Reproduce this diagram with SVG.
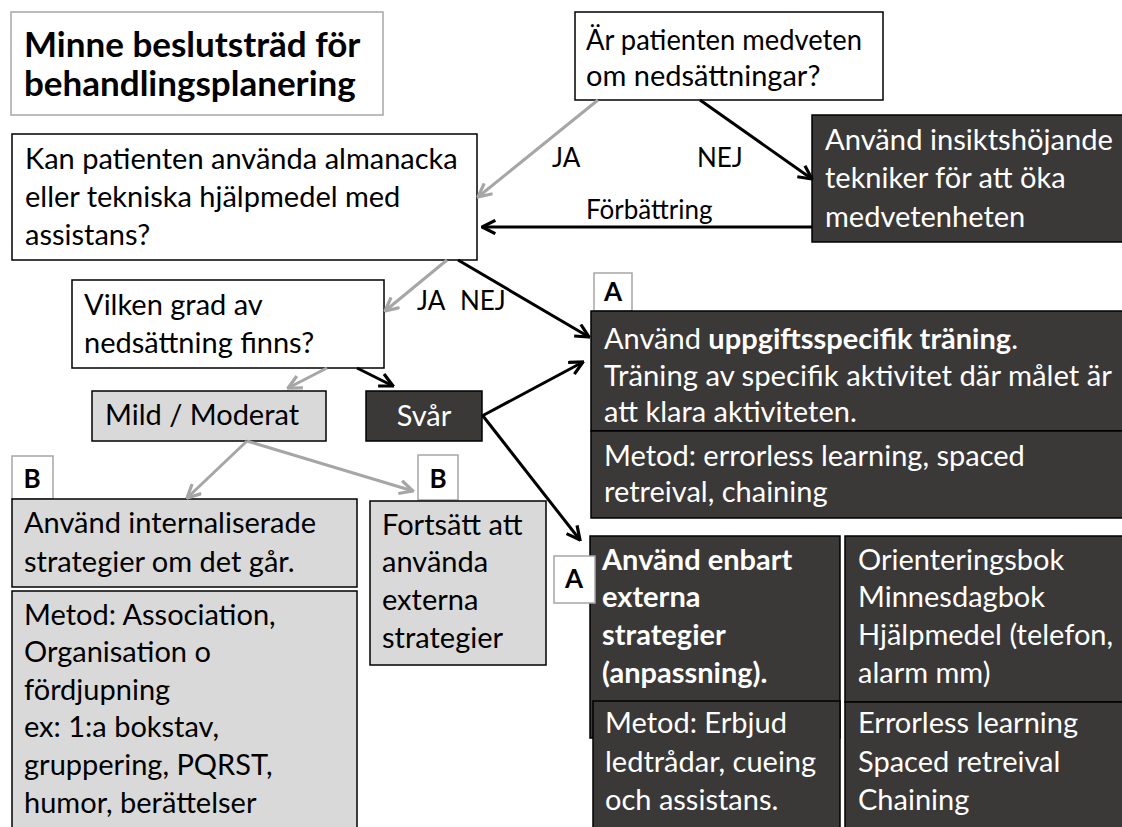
<svg xmlns="http://www.w3.org/2000/svg" width="1122" height="827" viewBox="0 0 1122 827">
  <defs>
    <marker id="ab" viewBox="0 0 12 12" refX="11" refY="6" markerWidth="16" markerHeight="16" markerUnits="userSpaceOnUse" orient="auto">
      <path d="M1,1 L11,6 L1,11" fill="none" stroke="#000" stroke-width="2.4"/>
    </marker>
    <marker id="ag" viewBox="0 0 12 12" refX="11" refY="6" markerWidth="16" markerHeight="16" markerUnits="userSpaceOnUse" orient="auto">
      <path d="M1,1 L11,6 L1,11" fill="none" stroke="#a6a6a6" stroke-width="2.4"/>
    </marker>
    <style>
      .t{font-family:Lato,'Liberation Sans',sans-serif;font-size:29px;fill:#000}
      .s{font-size:26px}
      .w{fill:#fff}
      .b{font-weight:bold}
      .box{fill:#fff;stroke:#000;stroke-width:1.5}
      .dark{fill:#3b3838;stroke:#000;stroke-width:1.5}
      .light{fill:#d9d9d9;stroke:#000;stroke-width:1.5}
      .tag{fill:#fff;stroke:#a6a6a6;stroke-width:1.5}
      .blk{stroke:#000;stroke-width:3;fill:none;marker-end:url(#ab)}
      .gry{stroke:#a6a6a6;stroke-width:3;fill:none;marker-end:url(#ag)}
    </style>
  </defs>
  <rect width="1122" height="827" fill="#fff"/>

  <g id="title">
    <rect x="11" y="12" width="372" height="103" class="tag"/>
    <text class="t b" style="font-size:35px" x="24" y="57">Minne beslutsträd för</text>
    <text class="t b" style="font-size:35px" x="24" y="96">behandlingsplanering</text>
  </g>

  <g id="q-medveten">
    <rect x="575" y="12" width="308" height="88" class="box"/>
    <text class="t" x="586" y="50" textLength="276" lengthAdjust="spacingAndGlyphs">Är patienten medveten</text>
    <text class="t" x="586" y="86">om nedsättningar?</text>
  </g>

  <g id="insikt">
    <rect x="812" y="115" width="312" height="127" class="dark"/>
    <text class="t w" x="825" y="150" textLength="288" lengthAdjust="spacingAndGlyphs">Använd insiktshöjande</text>
    <text class="t w" x="825" y="188">tekniker för att öka</text>
    <text class="t w" x="825" y="227">medvetenheten</text>
  </g>

  <g id="q-almanacka">
    <rect x="12" y="134" width="465" height="126" class="box"/>
    <text class="t" x="25" y="169">Kan patienten använda almanacka</text>
    <text class="t" x="25" y="207">eller tekniska hjälpmedel med</text>
    <text class="t" x="25" y="245">assistans?</text>
  </g>

  <g id="q-grad">
    <rect x="72" y="280" width="312" height="88" class="box"/>
    <text class="t" x="84" y="315">Vilken grad av</text>
    <text class="t" x="84" y="353">nedsättning finns?</text>
  </g>

  <g id="mild">
    <rect x="92" y="391" width="234" height="50" class="light"/>
    <text class="t" x="105" y="425">Mild / Moderat</text>
  </g>

  <g id="svar">
    <rect x="366" y="391" width="116" height="50" class="dark"/>
    <text class="t w" x="424" y="426" text-anchor="middle">Svår</text>
  </g>

  <g id="uppgift">
    <rect x="594" y="273" width="38" height="38" class="tag"/>
    <text class="t b s" x="613" y="301" text-anchor="middle">A</text>
    <rect x="591" y="311" width="533" height="120" class="dark"/>
    <rect x="591" y="431" width="533" height="87" class="dark"/>
    <text class="t w" x="604" y="349">Använd <tspan class="b">uppgiftsspecifik träning</tspan>.</text>
    <text class="t w" x="604" y="386" textLength="508" lengthAdjust="spacingAndGlyphs">Träning av specifik aktivitet där målet är</text>
    <text class="t w" x="604" y="422">att klara aktiviteten.</text>
    <text class="t w" x="604" y="466">Metod: errorless learning, spaced</text>
    <text class="t w" x="604" y="502">retreival, chaining</text>
  </g>

  <g id="internaliserade">
    <rect x="12" y="456" width="41" height="43" class="tag"/>
    <text class="t b s" x="32" y="488" text-anchor="middle">B</text>
    <rect x="12" y="499" width="345" height="88" class="light"/>
    <text class="t" x="24" y="533">Använd internaliserade</text>
    <text class="t" x="24" y="572">strategier om det går.</text>
    <rect x="12" y="591" width="345" height="245" class="light"/>
    <text class="t" x="24" y="625">Metod: Association,</text>
    <text class="t" x="24" y="662">Organisation o</text>
    <text class="t" x="24" y="700">fördjupning</text>
    <text class="t" x="24" y="737">ex: 1:a bokstav,</text>
    <text class="t" x="24" y="775">gruppering, PQRST,</text>
    <text class="t" x="24" y="813">humor, berättelser</text>
  </g>

  <g id="fortsatt">
    <rect x="418" y="455" width="40" height="45" class="tag"/>
    <text class="t b s" x="438" y="488" text-anchor="middle">B</text>
    <rect x="370" y="501" width="176" height="164" class="light"/>
    <text class="t" x="382" y="535">Fortsätt att</text>
    <text class="t" x="382" y="572">använda</text>
    <text class="t" x="382" y="610">externa</text>
    <text class="t" x="382" y="648">strategier</text>
  </g>

  <g id="externa">
    <rect x="590" y="536" width="250" height="202" class="dark"/>
    <rect x="593" y="701" width="247" height="135" class="dark"/>
    <rect x="845" y="536" width="279" height="166" class="dark"/>
    <rect x="845" y="702" width="279" height="134" class="dark"/>
    <rect x="554" y="556" width="41" height="47" class="tag"/>
    <text class="t b s" x="574" y="588" text-anchor="middle">A</text>
    <text class="t w b" x="602" y="570">Använd enbart</text>
    <text class="t w b" x="602" y="607">externa</text>
    <text class="t w b" x="602" y="645">strategier</text>
    <text class="t w b" x="602" y="683">(anpassning).</text>
    <text class="t w" x="605" y="733">Metod: Erbjud</text>
    <text class="t w" x="605" y="772">ledtrådar, cueing</text>
    <text class="t w" x="605" y="810">och assistans.</text>
    <text class="t w" x="858" y="570">Orienteringsbok</text>
    <text class="t w" x="858" y="607">Minnesdagbok</text>
    <text class="t w" x="858" y="645">Hjälpmedel (telefon,</text>
    <text class="t w" x="858" y="683">alarm mm)</text>
    <text class="t w" x="858" y="733">Errorless learning</text>
    <text class="t w" x="858" y="772">Spaced retreival</text>
    <text class="t w" x="858" y="810">Chaining</text>
  </g>

  <g id="connectors">
    <path class="gry" d="M598,100 L478,197"/>
    <path class="blk" d="M700,100 L812,179"/>
    <path class="blk" d="M812,227 L482,227"/>
    <path class="gry" d="M447,260 L385,311"/>
    <path class="blk" d="M458,260 L589,337"/>
    <path class="gry" d="M327,368 L288,388"/>
    <path class="blk" d="M357,368 L393,386"/>
    <path class="blk" d="M482,416 L583,362"/>
    <path class="blk" d="M483,416 L580,540"/>
    <path class="gry" d="M247,441 L187,498"/>
    <path class="gry" d="M247,441 L413,491"/>
    <text class="t s" x="552" y="167">JA</text>
    <text class="t s" x="697" y="167">NEJ</text>
    <text class="t s" x="586" y="219">Förbättring</text>
    <text class="t s" x="417" y="310">JA</text>
    <text class="t s" x="460" y="310">NEJ</text>
  </g>
</svg>
